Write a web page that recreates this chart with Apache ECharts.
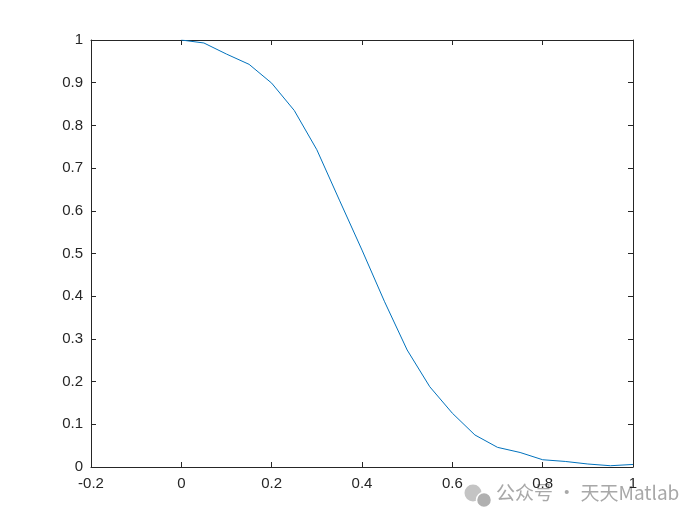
<!DOCTYPE html>
<html>
<head>
<meta charset="utf-8">
<script src="https://cdn.jsdelivr.net/npm/echarts@6/dist/echarts.min.js"></script>
<style>html,body{margin:0;padding:0;background:#fff}#c{width:700px;height:525px}</style>
</head>
<body>
<div id="c"></div>
<script>
var xValues = [0, 0.05, 0.1, 0.15, 0.2, 0.25, 0.3, 0.35, 0.4, 0.45, 0.5, 0.55, 0.6, 0.65, 0.7, 0.75, 0.8, 0.85, 0.9, 0.95, 1.0];
var yValues = [1.0, 0.993, 0.967, 0.943, 0.899, 0.835, 0.743, 0.625, 0.508, 0.387, 0.274, 0.188, 0.126, 0.075, 0.046, 0.034, 0.017, 0.013, 0.007, 0.003, 0.006];
var xTicks = [-0.2, 0, 0.2, 0.4, 0.6, 0.8, 1];
var yTicks = [0, 0.1, 0.2, 0.3, 0.4, 0.5, 0.6, 0.7, 0.8, 0.9, 1];

var fmt = function (v) { return String(Math.round(v * 1000) / 1000); };
var axisColor = '#262626';
var font = 'Liberation Sans, Arial, sans-serif';

function xAxisDef(pos, showLabel) {
  return {
    type: 'value', position: pos, min: -0.2, max: 1, interval: 0.2,
    axisLine: { show: true, onZero: false, lineStyle: { color: axisColor, width: 1 } },
    axisTick: { show: true, inside: true, length: 5, lineStyle: { color: axisColor } },
    axisLabel: { show: showLabel, formatter: fmt, color: axisColor, fontSize: 15, fontFamily: font, margin: 9 },
    splitLine: { show: false }
  };
}
function yAxisDef(pos, showLabel) {
  return {
    type: 'value', position: pos, min: 0, max: 1, interval: 0.1,
    axisLine: { show: true, onZero: false, lineStyle: { color: axisColor, width: 1 } },
    axisTick: { show: true, inside: true, length: 5, lineStyle: { color: axisColor } },
    axisLabel: { show: showLabel, formatter: fmt, color: axisColor, fontSize: 15, fontFamily: font, margin: 8 },
    splitLine: { show: false }
  };
}

var data = xValues.map(function (x, i) { return [x, yValues[i]]; });

var chart = echarts.init(document.getElementById('c'), null, { renderer: 'canvas' });
chart.setOption({
  backgroundColor: '#ffffff',
  animation: false,
  grid: { left: 91, right: 67, top: 40, bottom: 58, containLabel: false },
  xAxis: [xAxisDef('bottom', true), xAxisDef('top', false)],
  yAxis: [yAxisDef('left', true), yAxisDef('right', false)],
  series: [{
    type: 'line', data: data, xAxisIndex: 0, yAxisIndex: 0,
    showSymbol: false, smooth: false,
    lineStyle: { color: '#0072BD', width: 1 }
  }],
  graphic: [
    { type: 'circle', shape: { cx: 473, cy: 493, r: 8.5 }, style: { fill: '#c4c4c4' } },
    { type: 'circle', shape: { cx: 484, cy: 500, r: 7.5 }, style: { fill: '#b0b0b0', stroke: '#fff', lineWidth: 1.5 } },
    { type: 'text', left: 496, top: 483, style: { text: '公众号 · 天天Matlab', fill: '#a8a8a8', fontSize: 19, fontFamily: 'Noto Sans CJK SC, sans-serif' } }
  ]
});
</script>
</body>
</html>
